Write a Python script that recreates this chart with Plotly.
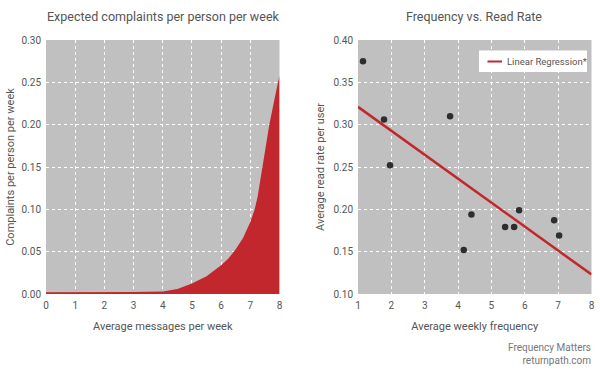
import plotly.graph_objects as go

# Left chart: expected complaints curve
msg_x = [0, 1, 2, 3, 4, 4.5, 5, 5.5, 6, 6.25, 6.5, 6.75, 7, 7.15, 7.25, 7.4, 7.5, 7.65, 7.75, 7.9, 8]
complaints = [0.002, 0.002, 0.002, 0.0025, 0.003, 0.006, 0.0125, 0.021, 0.034, 0.042, 0.053,
              0.066, 0.085, 0.100, 0.115, 0.150, 0.168, 0.200, 0.218, 0.242, 0.258]

# Right chart: frequency vs read rate
freq = [1.15, 1.78, 1.96, 3.76, 4.17, 4.40, 5.41, 5.68, 5.83, 6.88, 7.03]
read_rate = [0.375, 0.306, 0.252, 0.310, 0.152, 0.194, 0.179, 0.179, 0.199, 0.187, 0.169]
reg_x = [1, 8]
reg_y = [0.321, 0.123]
legend_label = "Linear Regression*"

left_ticks = [0, 1, 2, 3, 4, 5, 6, 7, 8]
left_yticks = [0.00, 0.05, 0.10, 0.15, 0.20, 0.25, 0.30]
right_ticks = [1, 2, 3, 4, 5, 6, 7, 8]
right_yticks = [0.10, 0.15, 0.20, 0.25, 0.30, 0.35, 0.40]

RED = "#c1272d"
BG = "#c0c0c0"
TXT = "#555555"
FONT = "Roboto"
W, H = 600, 370


def px(x):
    return x / W


def py(y):
    return (H - y) / H


fig = go.Figure()
fig.add_trace(go.Scatter(x=msg_x, y=complaints, mode="lines", fill="tozeroy",
                         line=dict(width=0, color=RED), fillcolor=RED,
                         showlegend=False, xaxis="x", yaxis="y", hoverinfo="skip"))
fig.add_trace(go.Scatter(x=freq, y=read_rate, mode="markers",
                         marker=dict(size=6.5, color="#2e2e2e"),
                         showlegend=False, xaxis="x2", yaxis="y2"))
fig.add_trace(go.Scatter(x=reg_x, y=reg_y, mode="lines", name=legend_label,
                         line=dict(width=2.5, color=RED), showlegend=False,
                         xaxis="x2", yaxis="y2"))

ydom = [py(294), py(40)]
axis_common = dict(showgrid=True, gridcolor="white", griddash="dot", gridwidth=1,
                   zeroline=False, showline=False, ticks="", automargin=False,
                   tickfont=dict(family=FONT, size=10, color=TXT),
                   ticklabelstandoff=4)

fig.update_layout(
    width=W, height=H,
    margin=dict(l=0, r=0, t=0, b=0),
    paper_bgcolor="white",
    plot_bgcolor=BG,
    font=dict(family=FONT, color=TXT),
    showlegend=False,
    xaxis=dict(domain=[px(46), px(279.5)], range=[0, 8], tickvals=left_ticks,
               anchor="y", **axis_common,
               title=dict(text="Average messages per week", font=dict(size=11, color=TXT), standoff=12)),
    yaxis=dict(domain=ydom, range=[0, 0.30], tickvals=left_yticks, tickformat=".2f",
               anchor="x", **axis_common,
               title=dict(text="Complaints per person per week", font=dict(size=11, color=TXT), standoff=4)),
    xaxis2=dict(domain=[px(358), px(591.5)], range=[1, 8], tickvals=right_ticks,
                anchor="y2", **axis_common,
                title=dict(text="Average weekly frequency", font=dict(size=11, color=TXT), standoff=12)),
    yaxis2=dict(domain=ydom, range=[0.10, 0.40], tickvals=right_yticks, tickformat=".2f",
                anchor="x2", **axis_common,
                title=dict(text="Average read rate per user", font=dict(size=11, color=TXT), standoff=6)),
    shapes=[
        dict(type="rect", xref="paper", yref="paper", x0=px(479), x1=px(587), y0=py(72), y1=py(50.5),
             fillcolor="white", line=dict(width=0), layer="above"),
        dict(type="line", xref="paper", yref="paper", x0=px(487.5), x1=px(502), y0=py(61.5), y1=py(61.5),
             line=dict(color=RED, width=2), layer="above"),
    ],
    annotations=[
        dict(text="Expected complaints per person per week", x=px(163), y=py(17),
             xref="paper", yref="paper", showarrow=False, xanchor="center", yanchor="middle",
             font=dict(family=FONT, size=12.5, color=TXT)),
        dict(text="Frequency vs. Read Rate", x=px(474), y=py(17),
             xref="paper", yref="paper", showarrow=False, xanchor="center", yanchor="middle",
             font=dict(family=FONT, size=12.5, color=TXT)),
        dict(text=legend_label, x=px(505), y=py(61.5),
             xref="paper", yref="paper", showarrow=False, xanchor="left", yanchor="middle",
             font=dict(family=FONT, size=9.5, color=TXT)),
        dict(text="Frequency Matters<br>returnpath.com", x=px(593), y=py(354),
             xref="paper", yref="paper", showarrow=False, xanchor="right", yanchor="middle",
             align="right", font=dict(family=FONT, size=10, color="#777777")),
    ],
)

fig.write_html("out.html", config={"displayModeBar": False},
               post_script="document.body.style.margin='0';document.body.style.overflow='hidden';")
